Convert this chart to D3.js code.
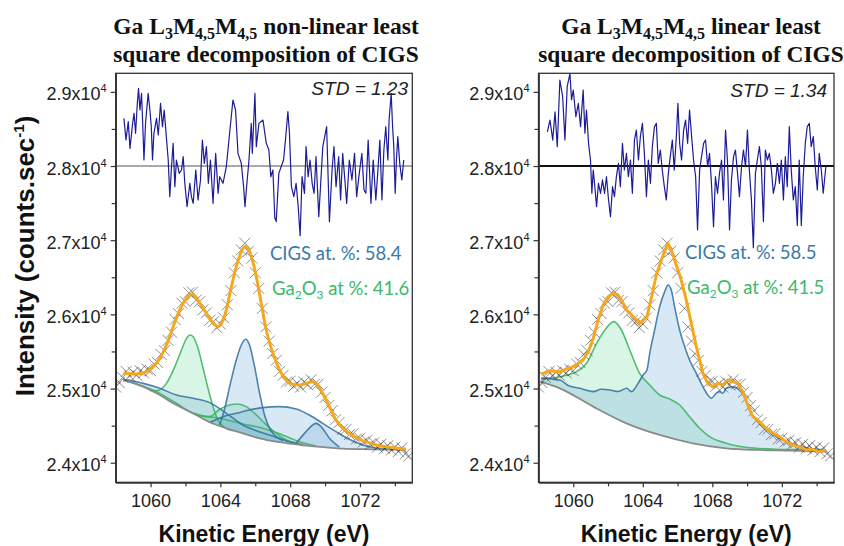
<!DOCTYPE html>
<html>
<head>
<meta charset="utf-8">
<script src="https://cdn.jsdelivr.net/npm/d3@7"></script>
<style>
  body { margin: 0; background: #fff; }
</style>
</head>
<body>
<div id="chart"></div>
<script>
// ---- data ----
const yMajor = [24000, 25000, 26000, 27000, 28000, 29000];
const yMinor = [24500, 25500, 26500, 27500, 28500];
const xMajor = [1060, 1064, 1068, 1072];
const xMinor = [1062, 1066, 1070, 1074];
const residualZero = 28000;

// measured spectrum (crosses), same in both panels
const measured = [
  [1058.0,25020],[1058.2,25080],[1058.4,25150],[1058.6,25230],[1058.8,25170],[1059.0,25220],
  [1059.2,25180],[1059.4,25240],[1059.6,25210],[1059.8,25260],[1060.0,25240],[1060.2,25330],
  [1060.4,25350],[1060.6,25460],[1060.8,25510],[1061.0,25650],[1061.2,25760],[1061.4,25930],
  [1061.6,26010],[1061.8,26150],[1062.0,26170],[1062.2,26290],[1062.4,26300],[1062.6,26190],
  [1062.8,26170],[1063.0,26060],[1063.2,26020],[1063.4,25920],[1063.6,25900],[1063.8,25820],
  [1064.0,25870],[1064.2,25950],[1064.4,26130],[1064.6,26320],[1064.8,26560],[1065.0,26720],
  [1065.2,26870],[1065.4,26960],[1065.6,26850],[1065.8,26760],[1066.0,26560],[1066.2,26350],
  [1066.4,26080],[1066.6,25830],[1066.8,25640],[1067.0,25470],[1067.2,25380],[1067.4,25230],
  [1067.6,25180],[1067.8,25090],[1068.0,25100],[1068.2,25030],[1068.4,25070],[1068.6,25020],
  [1068.8,25090],[1069.0,25050],[1069.2,25120],[1069.4,25060],[1069.6,25060],[1069.8,24950],
  [1070.0,24880],[1070.2,24770],[1070.4,24700],[1070.6,24580],[1070.8,24540],[1071.0,24450],
  [1071.2,24450],[1071.4,24380],[1071.6,24390],[1071.8,24320],[1072.0,24330],[1072.2,24280],
  [1072.4,24300],[1072.6,24250],[1072.8,24270],[1073.0,24210],[1073.2,24250],[1073.4,24190],
  [1073.6,24230],[1073.8,24170],[1074.0,24210],[1074.2,24150],[1074.4,24200],[1074.6,24120],
  [1074.8,24090]
];

// ---- left panel: non-linear decomposition ----
const fitLeft = [
  [1058.44,25205],[1059.20,25196],[1059.77,25228],[1060.15,25295],[1060.53,25407],[1060.91,25587],
  [1061.29,25834],[1061.67,26059],[1062.06,26216],[1062.34,26275],[1062.63,26216],[1063.01,26081],
  [1063.39,25947],[1063.67,25857],[1063.86,25834],[1064.06,25879],[1064.34,26059],[1064.63,26373],
  [1064.91,26643],[1065.20,26845],[1065.39,26913],[1065.58,26890],[1065.77,26778],[1066.06,26508],
  [1066.34,26149],[1066.63,25789],[1067.01,25475],[1067.39,25250],[1067.77,25115],[1068.15,25057],
  [1068.53,25048],[1068.91,25070],[1069.29,25093],[1069.58,25048],[1069.86,24936],[1070.25,24756],
  [1070.63,24576],[1071.01,24464],[1071.39,24397],[1071.77,24343],[1072.15,24298],[1072.53,24271],
  [1072.91,24239],[1073.48,24217],[1074.06,24199],[1074.63,24181]
];
const bgLeft = [
  [1058.44,25115],[1059.58,25025],[1060.34,24936],[1061.48,24778],[1062.44,24666],[1063.39,24545],
  [1064.34,24464],[1065.29,24397],[1066.25,24329],[1067.20,24284],[1068.15,24253],[1069.10,24226],
  [1070.06,24208],[1071.01,24190],[1072.91,24181],[1074.63,24172]
];
const ga2o3MainLeft = [
  [1059.96,24975],[1060.34,24972],[1060.91,25070],[1061.39,25295],[1061.77,25520],[1062.06,25677],
  [1062.25,25722],[1062.44,25699],[1062.72,25542],[1063.01,25273],[1063.29,25003],[1063.58,24756],
  [1063.86,24576],[1064.24,24477],[1064.72,24432]
];
const ga2o3SecondLeft = [
  [1062.44,24670],[1063.39,24621],[1063.96,24720],[1064.53,24778],[1065.01,24792],[1065.48,24756],
  [1066.06,24644],[1066.63,24509],[1067.20,24397],[1067.77,24307],[1068.34,24262]
];
const ga2o3BroadLeft = [
  [1058.44,25115],[1060.34,24958],[1061.48,24801],[1062.63,24644],[1063.96,24599],[1065.29,24522],
  [1066.44,24464],[1067.58,24374],[1068.53,24284],[1069.48,24226]
];
const cigsBroadLowLeft = [
  [1058.44,25124],[1059.58,25070],[1060.53,25003],[1061.48,24913],[1062.44,24868],[1063.39,24810],
  [1064.34,24666],[1065.29,24509],[1066.06,24432],[1066.82,24374],[1067.77,24298],[1068.72,24239]
];
const cigsMainLeft = [
  [1063.96,24509],[1064.25,24733],[1064.53,25025],[1064.91,25385],[1065.20,25587],[1065.45,25664],
  [1065.67,25587],[1065.96,25295],[1066.25,24936],[1066.53,24644],[1066.82,24464],[1067.20,24352],
  [1067.58,24298]
];
const cigsBroadLeft = [
  [1063.40,24545],[1064.15,24621],[1064.91,24666],[1065.67,24711],[1066.44,24743],[1067.39,24756],
  [1068.34,24725],[1069.10,24644],[1069.86,24531],[1070.63,24419],[1071.39,24316],[1072.15,24239],
  [1072.91,24199],[1073.86,24181]
];
const cigsSmallLeft = [
  [1068.34,24262],[1068.91,24419],[1069.29,24509],[1069.48,24531],[1069.77,24487],[1070.25,24329],
  [1070.82,24210]
];
const residualLeft = [
  [1058.47,28643],[1058.59,28351],[1058.72,28598],[1058.82,28238],[1058.97,28575],[1059.05,28710],
  [1059.14,28441],[1059.24,28845],[1059.31,29047],[1059.39,28755],[1059.48,28980],[1059.54,28620],
  [1059.62,28081],[1059.71,28575],[1059.86,28980],[1059.96,28755],[1060.04,28530],[1060.11,28081],
  [1060.19,28441],[1060.34,28643],[1060.44,28418],[1060.57,28845],[1060.68,28530],[1060.78,28755],
  [1060.91,28373],[1061.01,28081],[1061.10,27587],[1061.20,27991],[1061.29,28306],[1061.39,27722],
  [1061.48,28081],[1061.64,27901],[1061.77,27946],[1061.87,28126],[1061.96,27767],[1062.09,27452],
  [1062.25,27767],[1062.34,27587],[1062.44,27497],[1062.59,27946],[1062.72,27542],[1062.86,27812],
  [1062.97,28351],[1063.08,28036],[1063.20,28261],[1063.31,27767],[1063.43,28081],[1063.58,27497],
  [1063.73,28171],[1063.87,27632],[1063.96,27856],[1064.15,27767],[1064.34,27991],[1064.49,28351],
  [1064.72,28890],[1064.87,28755],[1065.01,28171],[1065.20,28036],[1065.33,27722],[1065.41,27452],
  [1065.52,27767],[1065.64,28081],[1065.77,28575],[1065.83,28171],[1065.98,28980],[1066.06,28261],
  [1066.21,28575],[1066.44,28620],[1066.63,28306],[1066.78,28216],[1066.89,27856],[1067.01,27946],
  [1067.12,27300],[1067.20,27250],[1067.35,27901],[1067.48,27991],[1067.62,28081],[1067.73,28351],
  [1067.87,28733],[1067.96,28441],[1068.07,27722],[1068.21,27587],[1068.34,27767],[1068.46,27452],
  [1068.57,27060],[1068.68,27856],[1068.82,27632],[1068.91,28261],[1069.03,27856],[1069.14,28081],
  [1069.26,27767],[1069.37,27632],[1069.48,28126],[1069.64,27317],[1069.87,28261],[1070.09,28530],
  [1070.25,27250],[1070.40,27946],[1070.51,28261],[1070.63,27722],[1070.78,28126],[1070.89,27542],
  [1071.01,28171],[1071.12,27856],[1071.24,27497],[1071.39,28081],[1071.54,27812],[1071.69,28171],
  [1071.81,27587],[1071.96,27901],[1072.11,28171],[1072.23,27677],[1072.34,27632],[1072.47,28351],
  [1072.63,27497],[1072.76,28081],[1072.91,27542],[1073.03,27946],[1073.14,28351],[1073.26,27542],
  [1073.37,28216],[1073.48,28530],[1073.60,28081],[1073.67,28620],[1073.79,28980],[1073.87,28530],
  [1073.94,28261],[1074.02,27632],[1074.09,28081],[1074.17,28396],[1074.28,28036],[1074.40,27812],
  [1074.51,28081]
];

// ---- right panel: linear decomposition ----
const fitRight = [
  [1058.15,25190],[1058.60,25240],[1059.23,25228],[1060.00,25295],[1060.57,25385],[1060.86,25497],
  [1061.15,25677],[1061.43,25924],[1061.72,26126],[1062.01,26239],[1062.29,26284],[1062.58,26261],
  [1062.77,26194],[1063.06,26059],[1063.35,25991],[1063.63,25924],[1063.82,25879],[1064.02,25924],
  [1064.24,25969],[1064.40,26126],[1064.59,26328],[1064.78,26531],[1065.07,26733],[1065.32,26890],
  [1065.45,26957],[1065.64,26868],[1065.83,26733],[1066.02,26598],[1066.21,26463],[1066.50,26194],
  [1066.79,25879],[1067.08,25565],[1067.27,25385],[1067.46,25205],[1067.74,25070],[1068.03,25025],
  [1068.32,25070],[1068.60,25048],[1068.89,25115],[1069.18,25093],[1069.47,25070],[1069.75,24958],
  [1070.04,24778],[1070.33,24621],[1070.71,24554],[1071.09,24464],[1071.47,24397],[1071.86,24352],
  [1072.24,24284],[1072.62,24239],[1073.00,24217],[1073.39,24172],[1073.77,24181],[1074.15,24150],
  [1074.53,24172]
];
const bgRight = [
  [1058.15,25090],[1059.23,25003],[1061.15,24756],[1063.06,24531],[1064.97,24374],[1066.88,24262],
  [1068.80,24194],[1070.71,24172],[1072.62,24163],[1074.53,24150]
];
const ga2o3Right = [
  [1058.15,25130],[1059.23,25160],[1060.19,25228],[1060.76,25340],[1061.34,25610],[1061.82,25789],
  [1062.33,25902],[1062.77,25789],[1063.25,25520],[1063.82,25205],[1064.40,25048],[1064.97,24913],
  [1065.55,24859],[1066.12,24778],[1066.69,24621],[1067.27,24464],[1067.84,24351],[1068.80,24262],
  [1069.94,24208],[1071.66,24181],[1073.58,24172],[1074.53,24160]
];
const cigsRight = [
  [1058.15,25140],[1059.23,25115],[1059.70,25040],[1060.38,25003],[1060.80,24975],[1061.15,24958],
  [1061.60,24990],[1062.10,24981],[1062.60,24960],[1063.06,25003],[1063.35,24958],[1063.73,25070],
  [1064.02,25183],[1064.24,25250],[1064.40,25475],[1064.68,25789],[1064.97,26104],[1065.26,26306],
  [1065.45,26396],[1065.64,26328],[1065.83,26104],[1066.12,25789],[1066.41,25565],[1066.69,25385],
  [1067.08,25205],[1067.46,25025],[1067.74,24913],[1067.94,24868],[1068.22,24936],[1068.41,24958],
  [1068.60,24936],[1068.80,25003],[1069.18,25025],[1069.56,24981],[1069.85,24891],[1070.23,24666],
  [1070.71,24531],[1071.28,24419],[1071.86,24329],[1072.62,24253],[1073.39,24203],[1074.53,24172]
];
const residualRight = [
  [1058.51,28460],[1058.66,28620],[1058.82,28350],[1058.95,28730],[1059.08,28260],[1059.23,29160],
  [1059.39,28935],[1059.52,28351],[1059.65,29070],[1059.81,29249],[1059.90,28890],[1060.00,29025],
  [1060.15,28665],[1060.29,28845],[1060.42,28530],[1060.57,29025],[1060.67,28441],[1060.76,28755],
  [1060.88,28306],[1060.99,28081],[1061.07,27632],[1061.15,27946],[1061.24,27722],[1061.34,27452],
  [1061.45,27767],[1061.57,27632],[1061.68,27812],[1061.80,27632],[1061.91,27856],[1062.03,27542],
  [1062.14,27317],[1062.26,27722],[1062.37,27587],[1062.48,27856],[1062.60,28036],[1062.71,27722],
  [1062.83,28306],[1062.94,27946],[1063.06,28171],[1063.17,27856],[1063.29,28081],[1063.40,27632],
  [1063.52,28351],[1063.63,28485],[1063.75,28081],[1063.86,28396],[1063.98,28575],[1064.09,28171],
  [1064.21,27587],[1064.32,28081],[1064.44,27767],[1064.55,28261],[1064.67,28530],[1064.78,28575],
  [1064.89,28036],[1065.01,28216],[1065.12,27946],[1065.24,27722],[1065.35,27542],[1065.47,27901],
  [1065.58,28126],[1065.70,28351],[1065.81,27946],[1065.93,28396],[1066.02,28845],[1066.12,28306],
  [1066.23,28081],[1066.35,28485],[1066.46,28620],[1066.58,28306],[1066.69,28755],[1066.81,28396],
  [1066.92,28081],[1067.04,27856],[1067.15,27140],[1067.27,27946],[1067.38,28126],[1067.50,28306],
  [1067.61,28351],[1067.73,27991],[1067.84,28171],[1067.95,27767],[1068.07,27180],[1068.18,27856],
  [1068.30,27632],[1068.41,27901],[1068.53,28081],[1068.64,27542],[1068.76,28485],[1068.87,28081],
  [1068.99,27140],[1069.10,27812],[1069.22,28126],[1069.33,28216],[1069.45,27901],[1069.56,27587],
  [1069.68,27991],[1069.79,28216],[1069.91,27991],[1070.02,28485],[1070.13,27946],[1070.25,27542],
  [1070.36,26900],[1070.48,27901],[1070.59,28081],[1070.71,28261],[1070.82,27991],[1070.94,27250],
  [1071.05,28216],[1071.17,28081],[1071.28,28171],[1071.40,27946],[1071.51,27632],[1071.63,27767],
  [1071.74,28036],[1071.86,27767],[1071.97,28081],[1072.09,27542],[1072.20,28126],[1072.31,27722],
  [1072.43,28530],[1072.54,27946],[1072.66,27542],[1072.77,27722],[1072.89,27200],[1073.00,28081],
  [1073.12,27200],[1073.23,27856],[1073.35,28306],[1073.46,28530],[1073.58,28575],[1073.69,28261],
  [1073.81,28396],[1073.92,27991],[1074.04,27677],[1074.15,28171],[1074.27,27946],[1074.38,27632],
  [1074.53,27991]
];

// ---- layout ----
const W = 844, H = 546;
const SANS = '"Liberation Sans", Arial, sans-serif';
const SERIF = '"Liberation Serif", "Times New Roman", serif';
const GREEN = '#3ab35c', GREEN_FILL = 'rgba(110,215,155,0.26)';
const BLUE = '#2f71a0', BLUE_FILL = 'rgba(125,178,220,0.30)';
const ORANGE = '#f5a81c';

const svg = d3.select('#chart').append('svg')
  .attr('width', W).attr('height', H)
  .attr('font-family', SANS);

const y = d3.scaleLinear().domain([23736, 29250]).range([482.3, 73.3]);

const panels = [
  {
    range: [115.7, 412.3], titleX: 266,
    title1: [['Ga L', 0], ['3', 1], ['M', 0], ['4,5', 1], ['M', 0], ['4,5', 1], [' non-linear least', 0]],
    std: 'STD = 1.23', stdX: 408, stdY: 95, zeroW: 1, zeroC: '#555',
    cigs: 'CIGS at. %: 58.4', cigsPos: [270, 260], ga: '41.6', gaPos: [272, 295],
    bg: bgLeft, fit: fitLeft, fitCurve: d3.curveMonotoneX, residual: residualLeft,
    comps: [
      [ga2o3MainLeft, 'g'], [ga2o3SecondLeft, 'g'], [ga2o3BroadLeft, 'g'],
      [cigsBroadLowLeft, 'b'], [cigsBroadLeft, 'b'], [cigsMainLeft, 'b'], [cigsSmallLeft, 'b']
    ]
  },
  {
    range: [538.5, 834], titleX: 691,
    title1: [['Ga L', 0], ['3', 1], ['M', 0], ['4,5', 1], ['M', 0], ['4,5', 1], [' linear least', 0]],
    std: 'STD = 1.34', stdX: 827, stdY: 97, zeroW: 2, zeroC: '#111',
    cigs: 'CIGS at. %: 58.5', cigsPos: [685, 259], ga: '41.5', gaPos: [687, 294],
    bg: bgRight, fit: fitRight, fitCurve: d3.curveLinear, residual: residualRight,
    comps: [[ga2o3Right, 'g'], [cigsRight, 'b']]
  }
];

panels.forEach((p, i) => {
  const x = d3.scaleLinear().domain([1058, 1075]).range(p.range);
  const g = svg.append('g');
  const clipId = 'clip' + i;
  svg.append('clipPath').attr('id', clipId).append('rect')
    .attr('x', p.range[0]).attr('y', y.range()[1])
    .attr('width', p.range[1] - p.range[0]).attr('height', y.range()[0] - y.range()[1]);
  const plot = g.append('g').attr('clip-path', `url(#${clipId})`);

  // background evaluated along its own points (base of the fills)
  const bgAt = d3.scaleLinear().domain(p.bg.map(d => d[0])).range(p.bg.map(d => d[1])).clamp(true);

  const area = d3.area()
    .x(d => x(d[0])).y0(d => y(bgAt(d[0]))).y1(d => y(d[1]))
    .curve(d3.curveMonotoneX);
  const line = d3.line().x(d => x(d[0])).y(d => y(d[1])).curve(d3.curveMonotoneX);

  p.comps.forEach(([pts, c]) => {
    plot.append('path').attr('d', area(pts))
      .attr('fill', c === 'g' ? GREEN_FILL : BLUE_FILL);
  });
  p.comps.forEach(([pts, c]) => {
    plot.append('path').attr('d', line(pts))
      .attr('fill', 'none').attr('stroke', c === 'g' ? GREEN : BLUE)
      .attr('stroke-width', 1.6).attr('stroke-opacity', 0.85);
  });

  plot.append('path').attr('d', line(p.bg))
    .attr('fill', 'none').attr('stroke', '#8a8a8a').attr('stroke-width', 1.8);

  // measured data crosses
  plot.selectAll('.pt').data(measured).join('path')
    .attr('class', 'pt')
    .attr('transform', d => `translate(${x(d[0])},${y(d[1])})`)
    .attr('d', 'M-5.5,-5.5L5.5,5.5M-5.5,5.5L5.5,-5.5')
    .attr('stroke', '#333').attr('stroke-width', 1).attr('stroke-opacity', 0.55)
    .attr('fill', 'none');

  // fit envelope
  plot.append('path')
    .attr('d', d3.line().x(d => x(d[0])).y(d => y(d[1])).curve(p.fitCurve)(p.fit))
    .attr('fill', 'none').attr('stroke', ORANGE).attr('stroke-width', 3)
    .attr('stroke-linejoin', 'round');

  // residual
  plot.append('line')
    .attr('x1', p.range[0]).attr('x2', p.range[1])
    .attr('y1', y(residualZero)).attr('y2', y(residualZero))
    .attr('stroke', p.zeroC).attr('stroke-width', p.zeroW);
  plot.append('path')
    .attr('d', d3.line().x(d => x(d[0])).y(d => y(d[1]))(p.residual))
    .attr('fill', 'none').attr('stroke', '#1c1c96').attr('stroke-width', 1.2)
    .attr('stroke-linejoin', 'round');

  // frame
  g.append('rect')
    .attr('x', p.range[0]).attr('y', y.range()[1])
    .attr('width', p.range[1] - p.range[0]).attr('height', y.range()[0] - y.range()[1])
    .attr('fill', 'none').attr('stroke', '#333').attr('stroke-width', 1.3);

  // axes
  const ax = g.append('g').attr('transform', `translate(0,${y.range()[0]})`)
    .call(d3.axisBottom(x).tickValues(xMajor).tickSize(5).tickSizeOuter(0)
      .tickPadding(7).tickFormat(d3.format('d')));
  g.append('g').attr('transform', `translate(0,${y.range()[0]})`)
    .call(d3.axisBottom(x).tickValues(xMinor).tickSize(4).tickSizeOuter(0).tickFormat(''));
  const ay = g.append('g').attr('transform', `translate(${p.range[0]},0)`)
    .call(d3.axisLeft(y).tickValues(yMajor).tickSize(5).tickSizeOuter(0).tickPadding(4));
  g.append('g').attr('transform', `translate(${p.range[0]},0)`)
    .call(d3.axisLeft(y).tickValues(yMinor).tickSize(4).tickSizeOuter(0).tickFormat(''));
  g.selectAll('.domain').attr('stroke', '#333').attr('stroke-width', 1.3);
  g.selectAll('.tick line').attr('stroke', '#333').attr('stroke-width', 1.2);
  ax.selectAll('text').attr('font-size', 18).attr('fill', '#222').attr('font-family', SANS);
  ay.selectAll('text').each(function (v) {
    const t = d3.select(this).text('')
      .attr('font-size', 18).attr('fill', '#222').attr('dy', '0.45em')
      .attr('font-family', SANS);
    t.append('tspan').text((v / 1e4).toFixed(1) + 'x10');
    t.append('tspan').text('4').attr('font-size', 11).attr('dy', -8);
  });

  // x label
  g.append('text').attr('x', (p.range[0] + p.range[1]) / 2).attr('y', 542)
    .attr('text-anchor', 'middle').attr('font-size', 23).attr('font-weight', 'bold')
    .attr('fill', '#111').text('Kinetic Energy (eV)');

  // title
  const t1 = g.append('text').attr('x', p.titleX).attr('y', 34)
    .attr('text-anchor', 'middle').attr('font-family', SERIF)
    .attr('font-weight', 'bold').attr('font-size', 23.5).attr('fill', '#111');
  let shifted = false;
  p.title1.forEach(([s, sub]) => {
    const ts = t1.append('tspan').text(s);
    if (sub) { ts.attr('font-size', 16).attr('dy', shifted ? 0 : 5); shifted = true; }
    else if (shifted) { ts.attr('dy', -5); shifted = false; }
  });
  g.append('text').attr('x', p.titleX).attr('y', 62)
    .attr('text-anchor', 'middle').attr('font-family', SERIF)
    .attr('font-weight', 'bold').attr('font-size', 23.4).attr('fill', '#111')
    .text('square decomposition of CIGS');

  // annotations
  g.append('text').attr('x', p.stdX).attr('y', p.stdY).attr('text-anchor', 'end')
    .attr('font-style', 'italic').attr('font-size', 19).attr('fill', '#222').text(p.std);
  g.append('text').attr('x', p.cigsPos[0]).attr('y', p.cigsPos[1])
    .attr('font-family', 'Lato, "Open Sans", sans-serif').attr('font-size', 18.5)
    .attr('fill', '#3a7aa8').text(p.cigs);
  const ga = g.append('text').attr('x', p.gaPos[0]).attr('y', p.gaPos[1])
    .attr('font-family', 'Lato, "Open Sans", sans-serif').attr('font-size', 18.5)
    .attr('fill', '#3cb96a');
  ga.append('tspan').text('Ga');
  ga.append('tspan').text('2').attr('font-size', 12).attr('dy', 4);
  ga.append('tspan').text('O').attr('dy', -4);
  ga.append('tspan').text('3').attr('font-size', 12).attr('dy', 4);
  ga.append('tspan').text(' at %: ' + p.ga).attr('dy', -4);
});

// shared y label
const yl = svg.append('text')
  .attr('transform', 'translate(34,256) rotate(-90)')
  .attr('text-anchor', 'middle').attr('font-size', 26).attr('font-weight', 'bold').attr('fill', '#111');
yl.append('tspan').text('Intensity (counts.sec');
yl.append('tspan').text('-1').attr('font-size', 15).attr('dy', -10);
yl.append('tspan').text(')').attr('dy', 10);
</script>
</body>
</html>
